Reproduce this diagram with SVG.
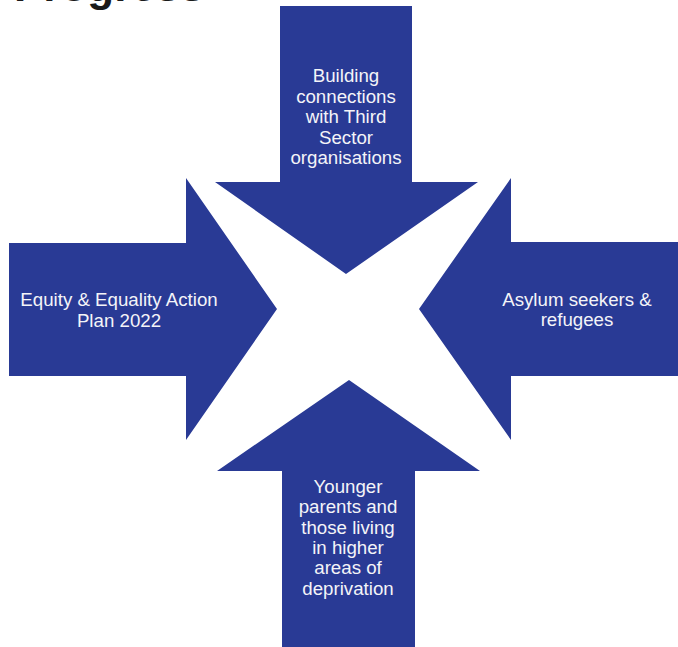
<svg xmlns="http://www.w3.org/2000/svg" width="678" height="647" viewBox="0 0 678 647">
<style>
.arrow{fill:#293a95;}
.lbl{font-family:"Liberation Sans",Arial,sans-serif;font-size:18.7px;fill:#f4f4f8;text-anchor:middle;}
.title{font-family:"Liberation Sans",Arial,sans-serif;font-size:44px;font-weight:bold;fill:#1a1a1a;}
</style>
<rect width="678" height="647" fill="#ffffff"/>
<text class="title" x="14" y="1">Progress</text>
<g id="top">
<polygon class="arrow" points="280,6 412,6 412,182 478,182 346,274 215,182 280,182"/>
<text class="lbl"><tspan x="346" y="82">Building</tspan><tspan x="346" y="102.5">connections</tspan><tspan x="346" y="123">with Third</tspan><tspan x="346" y="143.5">Sector</tspan><tspan x="346" y="164">organisations</tspan></text>
</g>
<g id="left">
<polygon class="arrow" points="9,243 186,243 186,178 277,309 186,440 186,376 9,376"/>
<text class="lbl"><tspan x="119" y="306">Equity &amp; Equality Action</tspan><tspan x="119" y="326.5">Plan 2022</tspan></text>
</g>
<g id="right">
<polygon class="arrow" points="678,242 511,242 511,178 419,309 511,440 511,376 678,376"/>
<text class="lbl"><tspan x="577" y="305.5">Asylum seekers &amp;</tspan><tspan x="577" y="326">refugees</tspan></text>
</g>
<g id="bottom">
<polygon class="arrow" points="282,647 415,647 415,471 480,471 349,380 217,471 282,471"/>
<text class="lbl"><tspan x="348" y="493">Younger</tspan><tspan x="348" y="513.3">parents and</tspan><tspan x="348" y="533.6">those living</tspan><tspan x="348" y="553.9">in higher</tspan><tspan x="348" y="574.2">areas of</tspan><tspan x="348" y="594.5">deprivation</tspan></text>
</g>
<g id="connectors"></g>
</svg>
